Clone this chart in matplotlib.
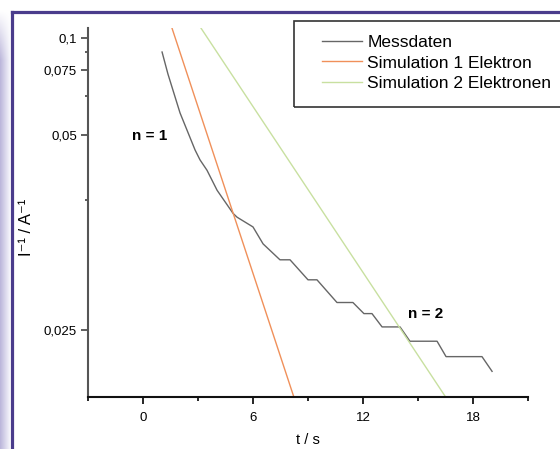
import numpy as np
import matplotlib
matplotlib.use("Agg")
import matplotlib.pyplot as plt
from matplotlib.patches import Rectangle
from matplotlib.lines import Line2D
from matplotlib.ticker import FixedLocator

plt.rcParams['font.family'] = ['Liberation Sans', 'DejaVu Sans']

# --- DATA ---
t_mess = [1.04, 1.36, 1.80, 2.02, 2.84, 3.11, 3.49, 4.04, 4.91, 5.13, 6.00,
          6.55, 7.47, 8.02, 9.00, 9.49, 10.58, 11.45, 12.05, 12.49, 13.04,
          14.02, 14.56, 16.04, 16.53, 18.49, 19.04]
inv_i_mess = [0.0874, 0.0730, 0.0611, 0.0565, 0.0465, 0.0444, 0.0424, 0.0390,
              0.0357, 0.0352, 0.0340, 0.0321, 0.0305, 0.0305, 0.0287, 0.0287,
              0.0269, 0.0269, 0.0261, 0.0261, 0.0252, 0.0252, 0.0243, 0.0243,
              0.0234, 0.0234, 0.0226]

t_sim1 = [1.58, 8.24]
inv_i_sim1 = [0.1114, 0.0213]
t_sim2 = [3.16, 16.53]
inv_i_sim2 = [0.1114, 0.0213]

y_major = [0.1, 0.075, 0.05, 0.025]
y_major_labels = ["0,1", "0,075", "0,05", "0,025"]
y_minor = [0.0875, 0.0625, 0.0375]
x_major = [0, 6, 12, 18]
x_minor = [-3, 3, 9, 15, 21]

W, H = 560, 449
fig = plt.figure(figsize=(W / 100, H / 100), dpi=100)

# --- slide-like frame on the left and top ---
grad_ax = fig.add_axes([0, 0, 10 / W, 1 - 10 / H])
grad_ax.axis('off')
rows, cols = 440, 10
c_left = np.array([0.74, 0.72, 0.86])
c_right = np.array([0.95, 0.95, 0.98])
fx = np.linspace(0, 1, cols)[None, :, None]
img = c_left * (1 - fx) + c_right * fx
img = np.repeat(img, rows, axis=0)
fade = np.clip(np.arange(rows) / 50.0, 0, 1)[:, None, None]
img = img * fade + (1 - fade)
grad_ax.imshow(img, aspect='auto', interpolation='bilinear')

purple = '#4a3c8c'
fig.add_artist(Line2D([11.5 / W, 11.5 / W], [0, 1 - 11.5 / H], color=purple, lw=2.3))
fig.add_artist(Line2D([11.5 / W, 1], [1 - 11.5 / H, 1 - 11.5 / H], color=purple, lw=2.3))

# --- main axes ---
ax = fig.add_axes([88 / W, 1 - 397 / H, 440 / W, 369 / H])
ax.set_yscale('function', functions=(lambda v: -1.0 / v, lambda u: -1.0 / u))

l1, = ax.plot(t_mess, inv_i_mess, color='#666666', lw=1.0, label='Messdaten')
l2, = ax.plot(t_sim1, inv_i_sim1, color='#f0905a', lw=1.0, label='Simulation 1 Elektron')
l3, = ax.plot(t_sim2, inv_i_sim2, color='#c8e0a0', lw=1.0, label='Simulation 2 Elektronen')

ax.set_xlim(-3, 21)
ax.set_ylim(0.02133, 0.11144)

ax.xaxis.set_major_locator(FixedLocator(x_major))
ax.xaxis.set_minor_locator(FixedLocator(x_minor))
ax.set_xticklabels([str(v) for v in x_major])
ax.yaxis.set_major_locator(FixedLocator(y_major))
ax.yaxis.set_minor_locator(FixedLocator(y_minor))
ax.set_yticklabels(y_major_labels)

for s in ['top', 'right']:
    ax.spines[s].set_visible(False)
ax.spines['left'].set_color('#555555')
ax.spines['left'].set_linewidth(1.5)
ax.spines['bottom'].set_color('#111111')
ax.spines['bottom'].set_linewidth(1.5)

ax.tick_params(axis='x', which='major', length=5, width=1.2, pad=5.5, labelsize=9.5)
ax.tick_params(axis='x', which='minor', length=3, width=1.2)
ax.tick_params(axis='y', which='major', length=5, width=1.1, pad=3, labelsize=9.5,
               color='#333333')
ax.tick_params(axis='y', which='minor', length=2.5, width=1.1, color='#333333')

ax.set_xlabel('t / s', fontsize=10.5, labelpad=7)
ax.set_ylabel('I⁻¹ / A⁻¹', fontsize=12)
ax.yaxis.set_label_coords(-0.123, 0.46)

ax.text(0.35, 0.0498, 'n = 1', ha='center', va='center', fontsize=11, fontweight='bold')
ax.text(15.44, 0.0261, 'n = 2', ha='center', va='center', fontsize=11, fontweight='bold')

# legend box (extends past the right edge like the reference)
fig.add_artist(Rectangle((294 / W, 1 - 107 / H), (575 - 294) / W, (107 - 21) / H,
                         transform=fig.transFigure, fill=False,
                         edgecolor='#333333', lw=1.2, clip_on=False))
fig.legend(handles=[l1, l2, l3], loc='upper left',
           bbox_to_anchor=(322 / W, 1 - 35 / H), bbox_transform=fig.transFigure,
           frameon=False, fontsize=12.5, borderpad=0, borderaxespad=0,
           handlelength=2.3, handletextpad=0.3, labelspacing=0.3)

fig.savefig('out.png', dpi=100)
